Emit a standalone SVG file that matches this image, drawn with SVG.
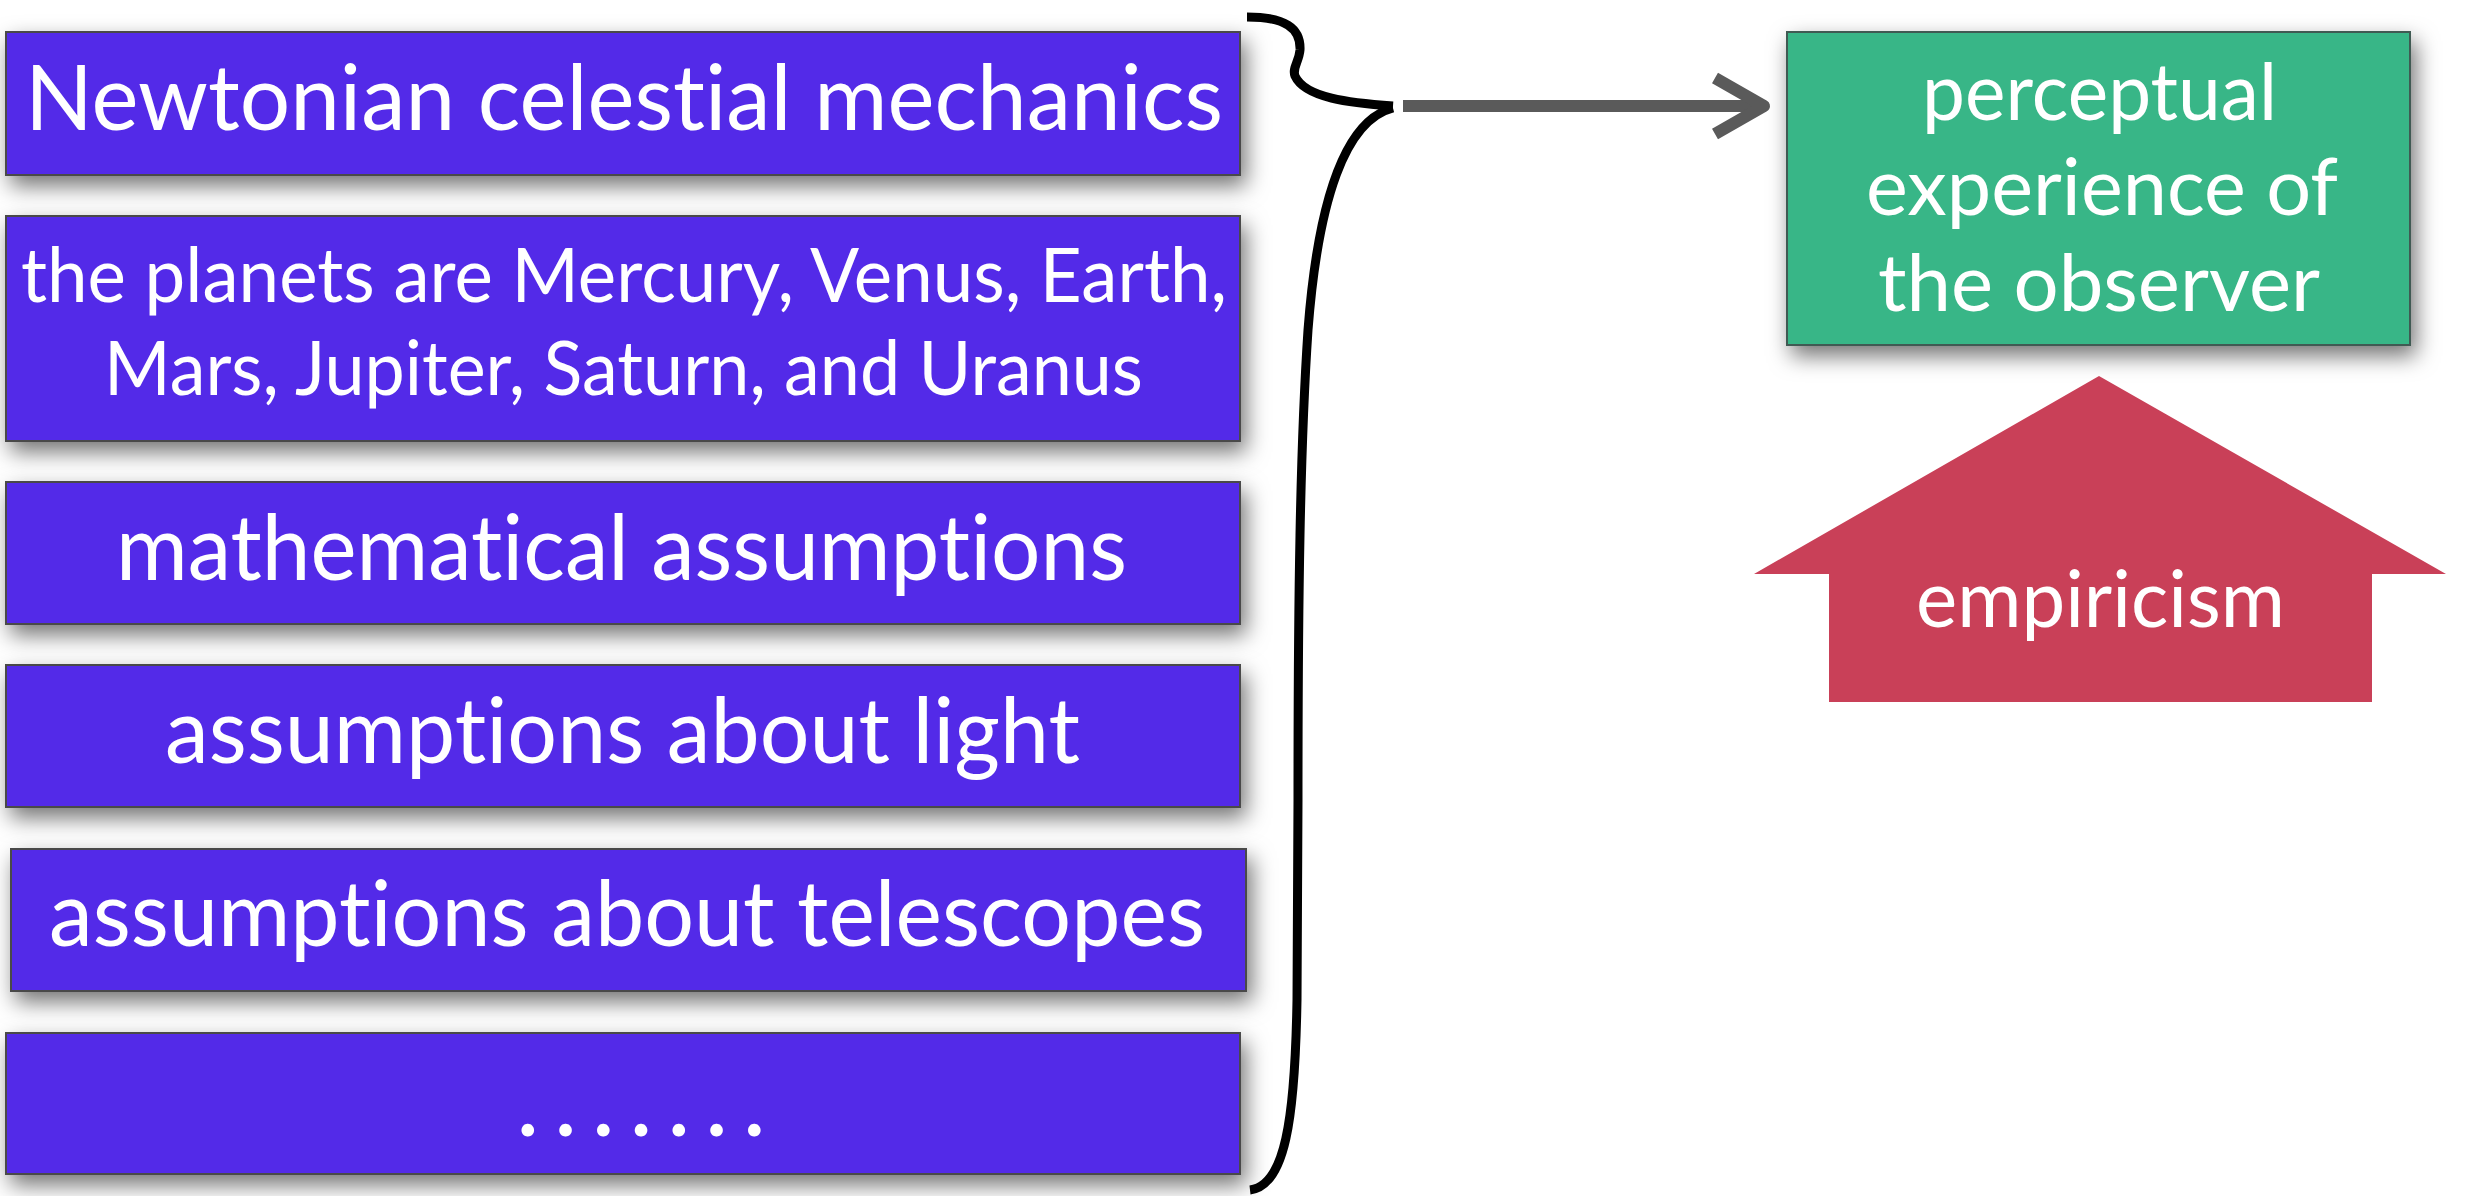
<svg xmlns="http://www.w3.org/2000/svg" width="2465" height="1196" viewBox="0 0 2465 1196">
<defs>
<filter id="sh" x="-10%" y="-30%" width="125%" height="170%">
<feDropShadow dx="5" dy="10" stdDeviation="11" flood-color="#000" flood-opacity="0.55"/>
</filter>
</defs>
<style>
.pb{fill:#522BE8;stroke:#4a4a4a;stroke-width:2;filter:url(#sh)}
.gb{fill:#38B687;stroke:#3f5a52;stroke-width:2;filter:url(#sh)}
.t{font-family:Lato,"Noto Sans",sans-serif;fill:#fff;text-anchor:start;font-variant-ligatures:none;font-feature-settings:"liga" 0}
.brace{fill:none;stroke:#000;stroke-width:9;stroke-linecap:butt}
.arr{fill:none;stroke:#5a5a5a;stroke-width:12}
</style>
<rect width="2465" height="1196" fill="#fff"/>
<g id="n1"><rect class="pb" x="6" y="32" width="1234" height="143"/>
<text class="t" x="25" y="130" font-size="92" textLength="1198" lengthAdjust="spacingAndGlyphs">Newtonian celestial mechanics</text></g>
<g id="n2"><rect class="pb" x="6" y="216" width="1234" height="225"/>
<text class="t" x="21" y="302" font-size="76" textLength="1206" lengthAdjust="spacingAndGlyphs">the planets are Mercury, Venus, Earth,</text>
<text class="t" x="104" y="395" font-size="76" textLength="1039" lengthAdjust="spacingAndGlyphs">Mars, Jupiter, Saturn, and Uranus</text></g>
<g id="n3"><rect class="pb" x="6" y="482" width="1234" height="142"/>
<text class="t" x="116" y="580" font-size="92" textLength="1011" lengthAdjust="spacingAndGlyphs">mathematical assumptions</text></g>
<g id="n4"><rect class="pb" x="6" y="665" width="1234" height="142"/>
<text class="t" x="165" y="763" font-size="92" textLength="915" lengthAdjust="spacingAndGlyphs">assumptions about light</text></g>
<g id="n5"><rect class="pb" x="11" y="849" width="1235" height="142"/>
<text class="t" x="49" y="946" font-size="92" textLength="1156" lengthAdjust="spacingAndGlyphs">assumptions about telescopes</text></g>
<g id="n6"><rect class="pb" x="6" y="1033" width="1234" height="141"/>
<text class="t" x="516" y="1136" font-size="100" textLength="250" lengthAdjust="spacing">.......</text></g>
<g id="n7"><rect class="gb" x="1787" y="32" width="623" height="313"/>
<text class="t" x="1922" y="120" font-size="80" textLength="355" lengthAdjust="spacingAndGlyphs">perceptual</text>
<text class="t" x="1866" y="215" font-size="80" textLength="472" lengthAdjust="spacingAndGlyphs">experience of</text>
<text class="t" x="1878" y="311" font-size="80" textLength="442" lengthAdjust="spacingAndGlyphs">the observer</text></g>
<g id="n8"><polygon points="2099,376 2446,574 2372,574 2372,702 1829,702 1829,574 1754,574" fill="#C94058"/>
<text class="t" x="1916" y="627" font-size="80" textLength="369" lengthAdjust="spacingAndGlyphs">empiricism</text></g>
<g id="connectors">
<path class="brace" d="M1247,17 C1285,17 1301,28 1300,50 C1299,62 1292,68 1295,76 C1305,98 1350,103 1393,106"/>
<path class="brace" d="M1393,108 C1345,120 1318,200 1308,330 C1300,450 1298,600 1298,800 L1297,1000 C1295,1120 1285,1186 1250,1190"/>
<line class="arr" x1="1403" y1="106" x2="1760" y2="106"/>
<polyline class="arr" points="1715,78 1764,106 1715,134" stroke-linejoin="round"/>
</g>
</svg>
